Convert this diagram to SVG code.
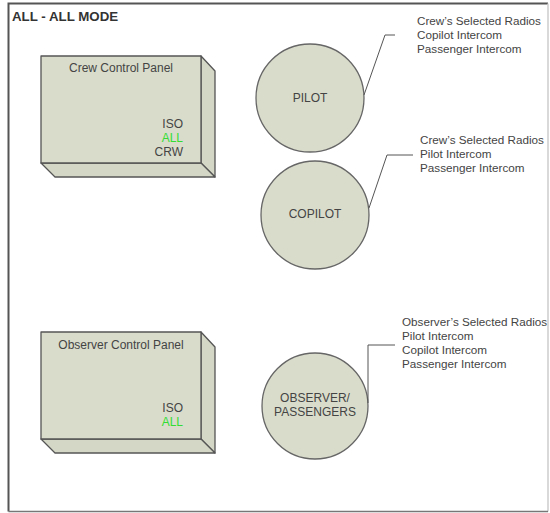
<svg xmlns="http://www.w3.org/2000/svg" width="550" height="513" viewBox="0 0 550 513">
<style>
text{font-family:"Liberation Sans",Arial,sans-serif;font-size:12px;fill:#444}
.note{font-size:11.7px}
.title{font-weight:bold;font-size:13.3px;fill:#333}
.face{fill:#d9dccb;stroke:#555;stroke-width:1.3;stroke-linejoin:round}
.side{fill:#d4d7c5;stroke:#555;stroke-width:1.3;stroke-linejoin:round}
.circ{fill:#d9dccb;stroke:#666;stroke-width:1.3}
.green{fill:#33dd33}
.conn{fill:none;stroke:#555;stroke-width:1}
.mid{text-anchor:middle}
.end{text-anchor:end}
</style>
<rect x="0" y="0" width="550" height="513" fill="#fff"/>
<path d="M8.5 511.5 L8.5 3.5 L548 3.5" fill="none" stroke="#555" stroke-width="2"/>
<path d="M548 3.5 L548 511.5" fill="none" stroke="#ccc" stroke-width="1.5"/>
<path d="M8.5 511.5 L548 511.5" fill="none" stroke="#777" stroke-width="1.5"/>
<text class="title" x="12" y="21">ALL - ALL MODE</text>

<g id="crew-panel">
<polygon class="side" points="201,56 215,71 215,177 201,163"/>
<polygon class="side" points="41,163 201,163 215,177 55,177"/>
<rect class="face" x="41" y="56" width="160" height="107"/>
<text class="mid" x="121" y="72">Crew Control Panel</text>
<text class="end" x="183" y="128">ISO</text>
<text class="end green" x="183" y="142">ALL</text>
<text class="end" x="183" y="156">CRW</text>
</g>

<g id="observer-panel">
<polygon class="side" points="201,332 215,347 215,453 201,439"/>
<polygon class="side" points="41,439 201,439 215,453 55,453"/>
<rect class="face" x="41" y="332" width="160" height="107"/>
<text class="mid" x="121" y="349">Observer Control Panel</text>
<text class="end" x="183" y="412">ISO</text>
<text class="end green" x="183" y="426">ALL</text>
</g>

<g id="pilot">
<circle class="circ" cx="310" cy="98" r="54"/>
<text class="mid" x="310" y="102">PILOT</text>
</g>

<g id="copilot">
<circle class="circ" cx="315" cy="215" r="54"/>
<text class="mid" x="315" y="218">COPILOT</text>
</g>

<g id="observer">
<circle class="circ" cx="315" cy="406" r="53"/>
<text class="mid" x="315" y="402">OBSERVER/</text>
<text class="mid" x="315" y="416">PASSENGERS</text>
</g>

<g id="connectors">
<polyline class="conn" points="364,95 385,35 395,35"/>
<polyline class="conn" points="369,208 387,155 413,155"/>
<polyline class="conn" points="368,403 368,345 395,345"/>
</g>

<g id="pilot-notes" class="note">
<text class="note" x="417" y="25">Crew’s Selected Radios</text>
<text class="note" x="417" y="39">Copilot Intercom</text>
<text class="note" x="417" y="53">Passenger Intercom</text>
</g>
<g id="copilot-notes">
<text class="note" x="420" y="144">Crew’s Selected Radios</text>
<text class="note" x="420" y="158">Pilot Intercom</text>
<text class="note" x="420" y="172">Passenger Intercom</text>
</g>
<g id="observer-notes">
<text class="note" x="402" y="326">Observer’s Selected Radios</text>
<text class="note" x="402" y="340">Pilot Intercom</text>
<text class="note" x="402" y="354">Copilot Intercom</text>
<text class="note" x="402" y="368">Passenger Intercom</text>
</g>
</svg>
